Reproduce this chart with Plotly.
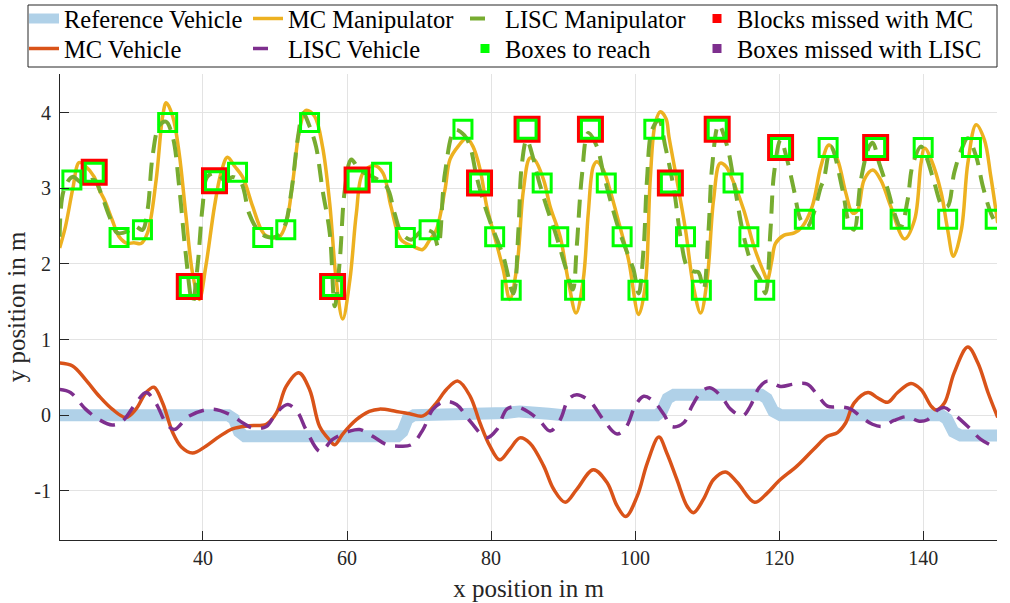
import plotly.graph_objects as go

# ---------------------------------------------------------------- data
# reference path of the vehicle (lane offsets)
ref_x = [20.0, 43.5, 44.3, 45.0, 45.8, 67.0, 67.7, 68.4, 69.3, 80.0, 82.0, 84.0,
         86.0, 88.0, 90.0, 103.0, 103.7, 104.5, 105.4, 117.5, 118.3, 119.2, 120.2,
         142.5, 143.3, 144.2, 145.2, 150.5]
ref_y = [0.0, 0.0, -0.05, -0.22, -0.28, -0.28, -0.22, -0.05, 0.0, 0.0, 0.03, 0.05,
         0.05, 0.02, 0.0, 0.0, 0.05, 0.22, 0.27, 0.27, 0.22, 0.05, 0.0,
         0.0, -0.05, -0.22, -0.27, -0.27]

# manipulator trajectory, MC controller
mc_man_x = [20.1, 20.9, 21.9, 22.8, 23.6, 24.9, 25.6, 26.3, 27.4, 28.35, 29.5, 30.4,
            31.4, 32.3, 33.5, 34.4, 34.9, 35.8, 36.7, 37.6, 38.55, 39.5, 40.4, 41.6,
            42.5, 43.4, 44.4, 45.5, 46.9, 48.1, 48.8, 50.6, 51.55, 52.5, 53.4, 54.3,
            55.5, 56.6, 57.6, 58.5, 59.4, 60.4, 61.3, 62.2, 63.8, 65.0, 66.1, 67.5,
            69.2, 70.5, 71.5, 72.4, 73.6, 74.3, 75.4, 76.6, 77.5, 78.5, 79.4, 80.5,
            81.7, 82.6, 83.6, 84.5, 85.4, 86.1, 87.3, 88.2, 89.6, 90.7, 91.8, 92.8,
            93.5, 94.2, 94.7, 95.6, 96.5, 97.9, 99.1, 100.5, 101.4, 102.1, 102.8,
            103.5, 104.3, 104.7, 105.8, 107.0, 108.1, 109.1, 110.0, 110.9, 111.8,
            112.6, 113.7, 115.1, 116.5, 117.9, 118.35, 119.0, 119.5, 120.7, 122.1,
            123.2, 124.6, 125.8, 126.9, 128.1, 129.25, 130.2, 130.9, 131.8, 133.0,
            134.1, 135.5, 137.4, 138.8, 139.7, 140.2, 141.1, 142.5, 143.4, 144.2,
            145.3, 146.2, 147.35, 148.5, 149.4, 150.35]
mc_man_y = [2.21, 2.49, 2.98, 3.34, 3.30, 3.15, 2.98, 2.85, 2.58, 2.36, 2.27, 2.28,
            2.27, 2.41, 3.11, 3.95, 4.13, 3.95, 3.46, 2.67, 1.88, 1.53, 1.97, 2.76,
            3.20, 3.41, 3.29, 3.15, 2.76, 2.45, 2.37, 2.36, 2.54, 3.11, 3.77, 4.03,
            3.95, 3.55, 2.80, 1.79, 1.27, 1.79, 2.67, 3.20, 3.30, 3.20, 2.76, 2.32,
            2.23, 2.19, 2.32, 2.45, 2.98, 3.38, 3.55, 3.66, 3.55, 3.24, 2.76, 2.36,
            1.92, 1.53, 1.97, 2.98, 3.40, 3.37, 3.11, 2.76, 2.36, 1.79, 1.35, 1.79,
            2.67, 3.29, 3.35, 3.24, 2.98, 2.49, 2.05, 1.33, 1.70, 3.11, 3.86,
            4.01, 3.92, 3.68, 3.11, 2.45, 1.70, 1.35, 1.79, 2.85, 3.33,
            3.29, 3.07, 2.71, 2.23, 1.88, 1.79, 2.05, 2.27, 2.38, 2.41,
            2.49, 2.76, 3.29, 3.57, 3.38, 2.94, 2.67, 2.71, 3.11, 3.24,
            3.11, 2.76, 2.33, 2.58, 3.33, 3.53, 3.38, 2.94, 2.45, 2.10,
            2.45, 3.33, 3.84, 3.64, 3.15, 2.54]

# manipulator trajectory, LISC controller
lisc_man_x = [20.1, 20.7, 21.9, 23.2, 24.9, 26.0, 27.0, 28.1, 29.5, 30.5, 31.6, 32.3,
              33.0, 33.9, 34.85, 35.8, 36.7, 37.6, 38.55, 39.25, 39.95, 40.6, 41.8,
              43.2, 44.1, 45.3, 46.4, 47.6, 48.8, 50.2, 51.3, 52.25, 53.2, 53.9, 54.8,
              55.7, 56.6, 57.6, 58.3, 59.0, 59.7, 60.6, 61.75, 63.6, 65.5, 66.6, 67.55,
              68.9, 70.6, 71.95, 72.65, 73.6, 75.0, 76.3, 77.1, 78.0, 79.15, 80.3,
              81.7, 83.1, 83.8, 84.25, 84.95, 85.9, 86.6, 87.7, 89.1, 90.3, 91.35,
              91.9, 92.6, 93.5, 94.7, 95.6, 96.8, 97.9, 99.3, 99.8, 100.5, 101.2,
              101.65, 102.35, 103.3, 104.2, 105.4, 106.3, 107.2, 108.1, 108.8, 109.5,
              110.2, 110.7, 111.6, 112.8, 113.9, 115.1, 116.3, 117.4, 118.1, 118.8,
              119.3, 120.2, 121.1, 122.05, 123.0, 123.9, 124.8, 125.8, 126.2, 127.2,
              128.8, 129.7, 130.4, 131.35, 132.5, 133.0, 133.9, 135.1, 136.0, 136.9,
              137.85, 138.5, 139.7, 140.5, 141.55, 142.7, 143.4, 144.3, 145.3, 146.2,
              147.35, 148.3, 149.4, 150.35]
lisc_man_y = [2.36, 2.98, 3.15, 3.07, 3.11, 2.89, 2.63, 2.41, 2.43, 2.50, 2.45, 2.71,
              3.42, 3.82, 3.88, 3.68, 3.02, 2.14, 1.48, 1.97, 2.76, 3.15, 3.20,
              3.09, 3.15, 3.07, 2.67, 2.45, 2.36, 2.36, 2.49, 2.94, 3.68, 3.99, 3.82,
              3.55, 2.98, 2.41, 1.44, 2.05, 2.98, 3.38, 3.24, 3.15, 3.02, 2.67, 2.41,
              2.32, 2.45, 2.41, 2.23, 3.20, 3.77, 3.70, 3.55, 3.15, 2.76, 2.45,
              2.10, 1.61, 2.45, 3.29, 3.64, 3.38, 3.11, 2.76, 2.36, 1.97, 1.66,
              2.23, 3.15, 3.73, 3.55, 3.20, 2.76, 2.41, 2.05, 1.92, 1.61, 2.23,
              3.11, 3.77, 3.90, 3.55, 2.98, 2.36, 1.97, 1.90, 1.89, 1.66,
              2.45, 3.29, 3.84, 3.55, 2.98, 2.36, 1.97, 1.79, 1.61, 2.45,
              3.20, 3.64, 3.38, 2.98, 2.58, 2.49, 2.67, 3.02, 3.11, 3.55,
              2.98, 2.54, 2.45, 3.11, 3.55, 3.60, 3.33, 2.98, 2.67, 2.49,
              2.85, 3.29, 3.55, 3.40, 3.07, 2.76, 2.76, 3.20, 3.51, 3.66,
              3.42, 3.02, 2.67, 2.49]

# vehicle trajectory, MC controller
mc_veh_x = [20.1, 21.9, 23.7, 25.6, 27.4, 29.3, 30.7, 32.1, 33.2, 34.4, 35.8, 37.0,
            38.55, 40.4, 42.3, 44.1, 46.4, 48.8, 50.2, 51.55, 53.3, 54.8, 56.2, 57.6,
            58.3, 59.4, 61.3, 63.1, 64.5, 66.85, 68.7, 70.55, 72.4, 73.8, 75.4, 77.1,
            78.45, 79.85, 81.2, 82.6, 84.0, 85.4, 87.3, 88.7, 90.3, 91.9, 94.2, 96.1,
            97.5, 98.7, 100.3, 101.7, 103.3, 104.4, 105.8, 107.2, 108.1, 109.5, 110.9,
            112.55, 114.2, 116.6, 118.35, 119.95, 122.5, 124.8, 126.7, 128.1, 129.25,
            130.4, 132.35, 133.65, 135.05, 136.45, 138.3, 139.7, 141.1, 141.8, 142.95,
            144.3, 146.2, 147.6, 149.0, 150.35]
mc_veh_y = [0.69, 0.65, 0.47, 0.25, 0.08, -0.03, 0.08, 0.30, 0.37, 0.16, -0.23, -0.42,
            -0.50, -0.41, -0.28, -0.18, -0.14, -0.12, 0.03, 0.38, 0.56, 0.34, -0.15, -0.33,
            -0.39, -0.25, -0.06, 0.05, 0.08, 0.05, 0.02, -0.01, 0.16, 0.34, 0.45, 0.25,
            -0.10, -0.41, -0.59, -0.45, -0.30, -0.37, -0.67, -0.98, -1.15, -0.98, -0.72, -0.89,
            -1.20, -1.34, -1.07, -0.63, -0.29, -0.50, -0.85, -1.20, -1.29, -1.11, -0.85,
            -0.75, -0.89, -1.15, -1.03, -0.87, -0.67, -0.45, -0.28, -0.23, -0.10,
            0.16, 0.30, 0.23, 0.17, 0.30, 0.42, 0.34, 0.12, 0.07, 0.16,
            0.56, 0.90, 0.69, 0.30, -0.03]

# vehicle trajectory, LISC controller
lisc_veh_x = [20.1, 21.6, 23.7, 25.6, 27.4, 28.8, 30.7, 32.1, 33.45, 34.85, 36.0, 38.1,
              41.3, 43.7, 45.5, 46.9, 48.8, 50.2, 51.8, 53.2, 54.3, 56.3, 58.0, 60.4,
              61.75, 63.6, 65.5, 67.3, 68.95, 70.55, 71.95, 73.6, 75.2, 77.1, 79.4,
              80.8, 82.2, 83.6, 85.4, 86.8, 88.2, 89.6, 90.75, 91.9, 93.75, 95.6,
              97.5, 98.8, 100.0, 101.2, 102.6, 104.0, 105.1, 106.75, 107.9, 109.3,
              110.5, 112.1, 113.25, 114.9, 116.0, 117.2, 118.35, 120.2, 122.05, 123.9,
              125.3, 126.7, 128.55, 129.95, 131.35, 132.95, 134.35, 135.95, 137.8,
              139.45, 140.6, 142.0, 142.95, 144.3, 146.2, 148.0, 149.9]
lisc_veh_y = [0.34, 0.30, 0.08, -0.06, -0.13, -0.08, 0.16, 0.30, 0.16, -0.10, -0.19, -0.01,
              0.08, 0.01, -0.10, -0.17, -0.15, 0.03, 0.14, 0.03, -0.19, -0.48, -0.32, -0.21,
              -0.19, -0.28, -0.39, -0.41, -0.39, -0.19, 0.08, 0.18, 0.14, -0.08, -0.30,
              -0.19, 0.08, 0.11, 0.03, -0.08, -0.21, -0.06, 0.21, 0.27, 0.18, -0.06,
              -0.25, -0.15, 0.12, 0.25, 0.18, 0.01, -0.15, -0.10, 0.12, 0.32,
              0.36, 0.23, 0.08, -0.01, 0.12, 0.36, 0.45, 0.38, 0.41, 0.41,
              0.27, 0.12, 0.11, 0.08, -0.02, -0.12, -0.15, -0.07, -0.02,
              -0.08, -0.06, 0.07, 0.10, 0.01, -0.15, -0.32, -0.42]

# boxes that the manipulator has to reach
box_x = [21.8, 24.9, 28.35, 31.6, 35.1, 38.1, 41.6, 44.8, 48.3, 51.5, 54.8, 58.0,
         61.4, 64.8, 68.1, 71.4, 76.1, 78.4, 80.5, 82.8, 85.0, 87.1, 89.4, 91.6,
         93.8, 96.0, 98.2, 100.4, 102.6, 104.9, 107.0, 109.2, 111.4, 113.6, 115.8,
         118.0, 120.2, 123.5, 126.8, 130.2, 133.4, 136.8, 140.0, 143.4, 146.7, 150.0]
box_y = [3.11, 3.21, 2.35, 2.45, 3.87, 1.70, 3.10, 3.21, 2.35, 2.45, 3.87, 1.70,
         3.11, 3.21, 2.35, 2.45, 3.78, 3.07, 2.36, 1.65, 3.78, 3.07, 2.36, 1.65,
         3.78, 3.07, 2.36, 1.65, 3.78, 3.07, 2.36, 1.65, 3.78, 3.07, 2.36,
         1.65, 3.54, 2.59, 3.54, 2.59, 3.54, 2.59, 3.54, 2.59, 3.54, 2.59]

# boxes missed by each controller
miss_mc_x = [24.9, 38.1, 41.6, 58.0, 61.4, 78.4, 85.0, 93.8, 104.9, 111.4, 120.2, 133.4]
miss_mc_y = [3.21, 1.70, 3.10, 1.70, 3.11, 3.07, 3.78, 3.78, 3.07, 3.78, 3.54, 3.54]
miss_lisc_x = []
miss_lisc_y = []

# axis ticks
x_ticks = [40, 60, 80, 100, 120, 140]
x_tick_text = ["40", "60", "80", "100", "120", "140"]
y_ticks = [-1, 0, 1, 2, 3, 4]
y_tick_text = ["-1", "0", "1", "2", "3", "4"]

# ---------------------------------------------------------------- styles
C_REF = "#b0d1e8"
C_MC_MAN = "#edb120"
C_LISC_MAN = "#77ac30"
C_MC_VEH = "#d95319"
C_LISC_VEH = "#7e2f8e"
C_BOX = "#00ff00"
C_MISS_MC = "#ff0000"
C_MISS_LISC = "#7e2f8e"
FONT = "Liberation Serif"
AX_COLOR = "#262626"

fig = go.Figure()

fig.add_trace(go.Scatter(x=ref_x, y=ref_y, mode="lines", showlegend=False,
                         line=dict(color=C_REF, width=12)))
fig.add_trace(go.Scatter(x=mc_veh_x, y=mc_veh_y, mode="lines", showlegend=False,
                         line=dict(color=C_MC_VEH, width=3.5, shape="spline", smoothing=1)))
fig.add_trace(go.Scatter(x=mc_man_x, y=mc_man_y, mode="lines", showlegend=False,
                         line=dict(color=C_MC_MAN, width=3.5, shape="spline", smoothing=1)))
fig.add_trace(go.Scatter(x=lisc_veh_x, y=lisc_veh_y, mode="lines", showlegend=False,
                         line=dict(color=C_LISC_VEH, width=3.5, shape="spline", smoothing=1,
                                   dash="16px,10px")))
fig.add_trace(go.Scatter(x=lisc_man_x, y=lisc_man_y, mode="lines", showlegend=False,
                         line=dict(color=C_LISC_MAN, width=4, shape="spline", smoothing=1,
                                   dash="18px,10px")))
fig.add_trace(go.Scatter(x=miss_mc_x, y=miss_mc_y, mode="markers", showlegend=False,
                         marker=dict(symbol="square-open", size=23, color=C_MISS_MC,
                                     line=dict(width=4, color=C_MISS_MC))))
fig.add_trace(go.Scatter(x=miss_lisc_x, y=miss_lisc_y, mode="markers", showlegend=False,
                         marker=dict(symbol="square-open", size=23, color=C_MISS_LISC,
                                     line=dict(width=4, color=C_MISS_LISC))))
fig.add_trace(go.Scatter(x=box_x, y=box_y, mode="markers", showlegend=False,
                         marker=dict(symbol="square-open", size=18, color=C_BOX,
                                     line=dict(width=3, color=C_BOX))))

# legend entries: (label, style, column text start px, row centre px)
legend_entries = [
    ("Reference Vehicle", dict(mode="lines", line=dict(color=C_REF, width=10)), 64, 18.5),
    ("MC Vehicle", dict(mode="lines", line=dict(color=C_MC_VEH, width=3.5)), 64, 48.5),
    ("MC Manipulator", dict(mode="lines", line=dict(color=C_MC_MAN, width=3.5)), 288, 18.5),
    ("LISC Vehicle", dict(mode="lines", line=dict(color=C_LISC_VEH, width=3.5,
                                                  dash="15px,100px")), 288, 48.5),
    ("LISC Manipulator", dict(mode="lines", line=dict(color=C_LISC_MAN, width=4,
                                                      dash="15px,100px")), 505, 18.5),
    ("Boxes to reach", dict(mode="markers", marker=dict(symbol="square", size=9,
                                                        color=C_BOX)), 505, 48.5),
    ("Blocks missed with MC", dict(mode="markers", marker=dict(symbol="square", size=9,
                                                               color=C_MISS_MC)), 737, 18.5),
    ("Boxes missed with LISC", dict(mode="markers", marker=dict(symbol="square", size=9,
                                                                color=C_MISS_LISC)), 737, 48.5),
]

W, H = 1010, 603
L, R, T, B = 60, 13, 74, 63
pw, ph = W - L - R, H - T - B
LEG_FONT = 24.5
item_h = LEG_FONT * 1.3 + 3


def px_to_paper_x(px):
    return (px - L) / pw


def px_to_paper_y(py):
    return 1 - (py - T) / ph


legend_layout = {}
for i, (name, kw, tx, cy) in enumerate(legend_entries):
    lid = "legend" if i == 0 else f"legend{i + 1}"
    fig.add_trace(go.Scatter(x=[None], y=[None], name=name, showlegend=True,
                             legend=lid, **kw))
    legend_layout[lid] = dict(
        orientation="v", x=px_to_paper_x(tx - 40), xanchor="left",
        y=px_to_paper_y(cy - item_h / 2 - 5), yanchor="top",
        bgcolor="rgba(0,0,0,0)", borderwidth=0, itemwidth=30,
        font=dict(family=FONT, size=LEG_FONT, color="#000000"),
    )

# legend frame
fig.add_shape(type="rect", xref="paper", yref="paper",
              x0=px_to_paper_x(28), x1=px_to_paper_x(997),
              y0=px_to_paper_y(67), y1=px_to_paper_y(5),
              line=dict(color=AX_COLOR, width=1), fillcolor="white", layer="below")

axis_common = dict(
    showline=True, linecolor=AX_COLOR, linewidth=1, mirror=False,
    showgrid=True, gridcolor="#e3e3e3", gridwidth=1,
    ticks="inside", ticklen=9, tickcolor=AX_COLOR, tickwidth=1,
    zeroline=False,
    tickfont=dict(family=FONT, size=20, color=AX_COLOR),
)

fig.update_layout(
    width=W, height=H,
    margin=dict(l=L, r=R, t=T, b=B, autoexpand=False),
    paper_bgcolor="white", plot_bgcolor="white",
    font=dict(family=FONT, color=AX_COLOR),
    xaxis=dict(range=[20.15, 150.25], tickvals=x_ticks, ticktext=x_tick_text,
               title=dict(text="x position in m",
                          font=dict(family=FONT, size=25, color=AX_COLOR),
                          standoff=11),
               **axis_common),
    yaxis=dict(range=[-1.65, 4.51], tickvals=y_ticks, ticktext=y_tick_text,
               ticklabelstandoff=4,
               title=dict(text="y position in m",
                          font=dict(family=FONT, size=25, color=AX_COLOR),
                          standoff=1),
               **axis_common),
    **legend_layout,
)

fig.write_html("out.html")
